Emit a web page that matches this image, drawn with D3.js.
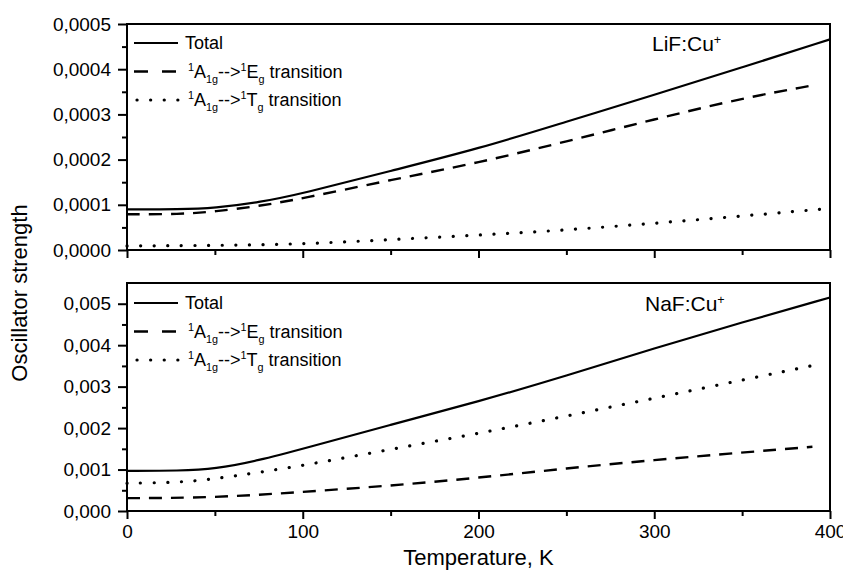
<!DOCTYPE html>
<html>
<head>
<meta charset="utf-8">
<script src="https://cdn.jsdelivr.net/npm/d3@7/dist/d3.min.js"></script>
<style>
  body { margin: 0; background: #fff; }
  text { font-family: "Liberation Sans", Arial, sans-serif; fill: #000; }
</style>
</head>
<body>
<div id="viz"></div>
<script>
// values (temperature in K, oscillator strength)
const lifTotalT = [0, 30, 50, 75, 100, 150, 200, 250, 300, 350, 400];
const lifTotal = [0.000090, 0.000090, 0.000093, 0.000105, 0.000125, 0.000175, 0.000224, 0.000284, 0.000343, 0.000404, 0.000466];
const lifEgT = [0, 30, 50, 75, 100, 150, 200, 250, 300, 350, 390];
const lifEg = [0.000079, 0.000079, 0.000085, 0.000097, 0.000114, 0.000155, 0.000193, 0.000240, 0.000289, 0.000336, 0.000364];
const lifTgT = [0, 50, 100, 150, 200, 250, 300, 350, 400];
const lifTg = [0.000009, 0.000010, 0.000013, 0.000023, 0.000033, 0.000044, 0.000059, 0.000075, 0.000092];

const nafTotalT = [0, 30, 50, 75, 100, 150, 200, 250, 300, 350, 400];
const nafTotal = [0.00097, 0.00097, 0.00101, 0.00122, 0.00150, 0.00208, 0.00264, 0.00326, 0.00393, 0.00455, 0.00515];
const nafEgT = [0, 50, 100, 150, 200, 250, 300, 350, 390];
const nafEg = [0.00031, 0.00032, 0.00046, 0.00061, 0.00080, 0.00103, 0.00123, 0.00141, 0.00155];
const nafTgT = [0, 30, 50, 100, 150, 200, 250, 300, 350, 395];
const nafTg = [0.00067, 0.00069, 0.00077, 0.00109, 0.00149, 0.00187, 0.00229, 0.00272, 0.00316, 0.00355];

const xTicks = [0, 100, 200, 300, 400];
const xMinor = [50, 150, 250, 350];
const lifTicks = [0, 0.0001, 0.0002, 0.0003, 0.0004, 0.0005];
const lifMinor = [0.00005, 0.00015, 0.00025, 0.00035, 0.00045];
const nafTicks = [0, 0.001, 0.002, 0.003, 0.004, 0.005];
const nafMinor = [0.0005, 0.0015, 0.0025, 0.0035, 0.0045];

const width = 843;
const height = 572;
const left = 127;
const right = 830;

const svg = d3.select('#viz').append('svg')
  .attr('width', width)
  .attr('height', height);

const xScale = d3.scaleLinear().domain([0, 400]).range([left, right]);

const styles = {
  total: { dash: null, width: 2.2, cap: 'butt' },
  eg: { dash: '13,9', width: 2.4, cap: 'butt' },
  tg: { dash: '0.1,13.5', width: 3.2, cap: 'round' },
};

// text with super/subscripts: [string, 'n'|'sup'|'sub']
const richText = function richText(sel, parts, size) {
  let shift = 0;
  parts.forEach(([str, mode]) => {
    const target = mode === 'sup' ? -7 : mode === 'sub' ? 5 : 0;
    sel.append('tspan')
      .attr('dy', target - shift)
      .attr('font-size', mode === 'n' ? size : size * 0.6)
      .text(str);
    shift = target;
  });
};

const egLabel = [['1', 'sup'], ['A', 'n'], ['1g', 'sub'], ['-->', 'n'], ['1', 'sup'], ['E', 'n'], ['g', 'sub'], [' transition', 'n']];
const tgLabel = [['1', 'sup'], ['A', 'n'], ['1g', 'sub'], ['-->', 'n'], ['1', 'sup'], ['T', 'n'], ['g', 'sub'], [' transition', 'n']];

const panel = function panel(cfg) {
  const yScale = d3.scaleLinear().domain(cfg.domain).range([cfg.bottom, cfg.top]);
  const g = svg.append('g');

  const line = d3.line()
    .curve(d3.curveBasis)
    .x(d => xScale(d[0]))
    .y(d => yScale(d[1]));

  cfg.series.forEach((s) => {
    const st = styles[s.key];
    g.append('path')
      .datum(d3.zip(s.t, s.v))
      .attr('fill', 'none')
      .attr('stroke', '#000')
      .attr('stroke-width', st.width)
      .attr('stroke-linecap', st.cap)
      .attr('stroke-dasharray', st.dash)
      .attr('d', line);
  });

  // frame
  g.append('rect')
    .attr('x', left)
    .attr('y', cfg.top)
    .attr('width', right - left)
    .attr('height', cfg.bottom - cfg.top)
    .attr('fill', 'none')
    .attr('stroke', '#000')
    .attr('stroke-width', 2);

  const fmt = v => d3.format(cfg.fmt)(v).replace('.', ',');

  g.append('g')
    .attr('transform', `translate(${left},0)`)
    .call(d3.axisLeft(yScale).tickValues(cfg.ticks).tickFormat(fmt).tickSize(9).tickSizeOuter(0).tickPadding(7));
  g.append('g')
    .attr('transform', `translate(${left},0)`)
    .call(d3.axisLeft(yScale).tickValues(cfg.minor).tickFormat('').tickSize(5).tickSizeOuter(0));

  g.append('g')
    .attr('transform', `translate(0,${cfg.bottom})`)
    .call(d3.axisBottom(xScale).tickValues(xTicks).tickFormat(cfg.xLabels ? d3.format('d') : '').tickSize(8).tickSizeOuter(0).tickPadding(6));
  g.append('g')
    .attr('transform', `translate(0,${cfg.bottom})`)
    .call(d3.axisBottom(xScale).tickValues(xMinor).tickFormat('').tickSize(5).tickSizeOuter(0));

  g.selectAll('.domain').remove();
  g.selectAll('.tick line').attr('stroke', '#000').attr('stroke-width', 2);
  g.selectAll('.tick text')
    .attr('font-size', 19)
    .attr('font-family', '"Liberation Sans", Arial, sans-serif');

  // legend
  const legendX = 134;
  const legendLen = 44;
  const rows = [
    { key: 'total', parts: [['Total', 'n']] },
    { key: 'eg', parts: egLabel },
    { key: 'tg', parts: tgLabel },
  ];
  rows.forEach((r, i) => {
    const y = cfg.legendY + i * 28.5;
    const st = styles[r.key];
    g.append('line')
      .attr('x1', legendX + (r.key === 'tg' ? 3 : 0))
      .attr('x2', legendX + legendLen)
      .attr('y1', y)
      .attr('y2', y)
      .attr('stroke', '#000')
      .attr('stroke-width', st.width)
      .attr('stroke-linecap', st.cap)
      .attr('stroke-dasharray', r.key === 'eg' ? '14,14' : st.dash);
    const t = g.append('text')
      .attr('x', legendX + legendLen + (r.key === 'total' ? 7 : 10))
      .attr('y', y + 6);
    richText(t, r.parts, 18);
  });

  const lab = g.append('text')
    .attr('x', cfg.labelX)
    .attr('y', cfg.labelY);
  richText(lab, cfg.label, 21);
};

panel({
  top: 24,
  bottom: 250,
  domain: [0, 0.0005],
  ticks: lifTicks,
  minor: lifMinor,
  fmt: '.4f',
  xLabels: false,
  legendY: 43,
  labelX: 652,
  labelY: 51,
  label: [['LiF:Cu', 'n'], ['+', 'sup']],
  series: [
    { key: 'total', t: lifTotalT, v: lifTotal },
    { key: 'eg', t: lifEgT, v: lifEg },
    { key: 'tg', t: lifTgT, v: lifTg },
  ],
});

panel({
  top: 283,
  bottom: 511,
  domain: [0, 0.0055],
  ticks: nafTicks,
  minor: nafMinor,
  fmt: '.3f',
  xLabels: true,
  legendY: 303,
  labelX: 645,
  labelY: 311,
  label: [['NaF:Cu', 'n'], ['+', 'sup']],
  series: [
    { key: 'total', t: nafTotalT, v: nafTotal },
    { key: 'eg', t: nafEgT, v: nafEg },
    { key: 'tg', t: nafTgT, v: nafTg },
  ],
});

svg.append('text')
  .attr('x', (left + right) / 2)
  .attr('y', 565)
  .attr('text-anchor', 'middle')
  .attr('font-size', 22)
  .text('Temperature, K');

svg.append('text')
  .attr('transform', 'translate(27,293) rotate(-90)')
  .attr('text-anchor', 'middle')
  .attr('font-size', 22)
  .text('Oscillator strength');
</script>
</body>
</html>
